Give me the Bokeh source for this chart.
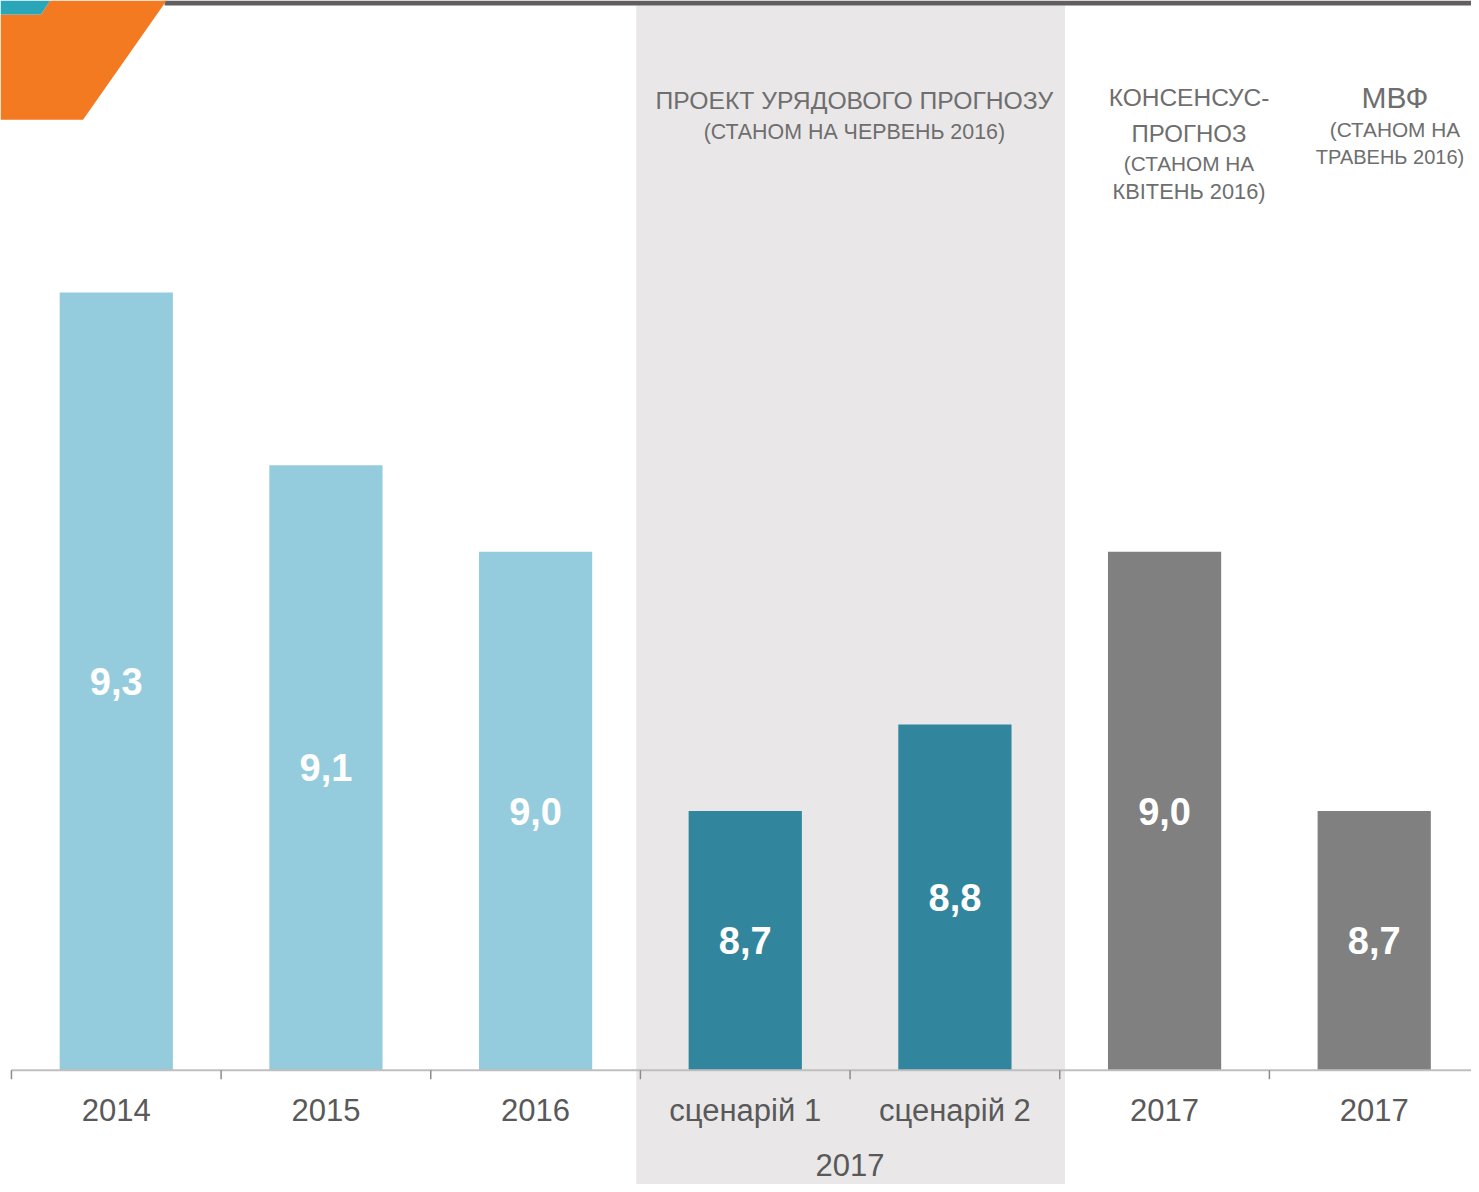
from bokeh.plotting import figure
from bokeh.models import Range1d, ColumnDataSource
from bokeh.core.properties import value
from bokeh.embed import file_html
from bokeh.resources import INLINE

# ---------------- data ----------------
categories = ["2014", "2015", "2016", "сценарій 1", "сценарій 2", "2017", "2017"]
values = [9.3, 9.1, 9.0, 8.7, 8.8, 9.0, 8.7]
value_labels = ["9,3", "9,1", "9,0", "8,7", "8,8", "9,0", "8,7"]
groups = ["fact", "fact", "fact", "gov", "gov", "consensus", "imf"]
group_axis_label = "2017"
header_gov = ["ПРОЕКТ УРЯДОВОГО ПРОГНОЗУ", "(СТАНОМ НА ЧЕРВЕНЬ 2016)"]
header_consensus = ["КОНСЕНСУС-", "ПРОГНОЗ", "(СТАНОМ НА", "КВІТЕНЬ 2016)"]
header_imf = ["МВФ", "(СТАНОМ НА", "ТРАВЕНЬ 2016)"]
baseline_value = 8.4

# ---------------- styling ----------------
group_colors = {"fact": "#94CCDD", "gov": "#31859C", "consensus": "#808080", "imf": "#808080"}
FONT = "Liberation Sans"
HEAD_COLOR = "#6E6E6E"
AXIS_TEXT = "#595959"

PX_PER_CAT = 210.8
PX_PER_UNIT = 870.0
X0_PX = 11.0
BASE_PX = 1077.0


def fx(px):
    return (px - X0_PX) / PX_PER_CAT


def fy(py):
    return baseline_value - (py - BASE_PX) / PX_PER_UNIT


W, H = 1471, 1184
p = figure(width=W, height=H, output_backend="svg", toolbar_location=None,
           x_range=Range1d(fx(0), fx(1479)), y_range=Range1d(fy(1192), fy(0)),
           x_axis_type=None, y_axis_type=None, min_border=0,
           background_fill_color="white", border_fill_color="white")
p.outline_line_color = None
p.xgrid.visible = False
p.ygrid.visible = False

# shaded band behind the government-forecast scenarios
gov_idx = [i for i, g in enumerate(groups) if g == "gov"]
p.quad(left=[gov_idx[0] - 0.02], right=[gov_idx[-1] + 1.025],
       bottom=[fy(1192)], top=[fy(5)], fill_color="#EAE7E8", line_color=None)

# decorative header elements
p.quad(left=[fx(165)], right=[fx(1479)], bottom=[fy(5)], top=[fy(0)],
       fill_color="#625D5E", line_color=None)
p.patch(x=[fx(0), fx(40.7), fx(50), fx(167), fx(83), fx(0)],
        y=[fy(14), fy(14), fy(0), fy(0), fy(120), fy(120)],
        fill_color="#F47A22", line_color=None)
p.patch(x=[fx(0), fx(50), fx(40.7), fx(0)],
        y=[fy(0), fy(0), fy(14), fy(14)],
        fill_color="#2BA6B8", line_color=None)

# bars
xs = [i + 0.5 for i in range(len(values))]
src = ColumnDataSource(dict(
    x=xs, top=values, bottom=[baseline_value] * len(values),
    color=[group_colors[g] for g in groups],
    mid=[(v + baseline_value) / 2 for v in values],
    lab=value_labels, cat=categories))
p.vbar(x="x", top="top", bottom="bottom", width=0.54, source=src,
       fill_color="color", line_color=None)

p.text(x="x", y="mid", text="lab", source=src, text_align="center",
       text_baseline="middle", text_color="white", text_font=value(FONT),
       text_font_style="bold", text_font_size="38px")

# axis line and ticks
p.segment(x0=[fx(11)], x1=[fx(1479)], y0=[baseline_value], y1=[baseline_value],
          line_color="#BFBFBF", line_width=2)
ticks = list(range(len(values) + 1))
p.segment(x0=ticks, x1=ticks, y0=[baseline_value] * len(ticks),
          y1=[fy(1086)] * len(ticks), line_color="#8C8C8C", line_width=1.5)

# category labels
p.text(x="x", y=fy(1117), text="cat", source=src, text_align="center",
       text_baseline="middle", text_color=AXIS_TEXT, text_font=value(FONT),
       text_font_size="31px")
p.text(x=[(gov_idx[0] + gov_idx[-1] + 1) / 2], y=[fy(1172)], text=[group_axis_label],
       text_align="center", text_baseline="middle", text_color=AXIS_TEXT,
       text_font=value(FONT), text_font_size="31px")


def header(lines, cx_list, centers_px, sizes):
    for t, cx, c, s in zip(lines, cx_list, centers_px, sizes):
        p.text(x=[fx(cx)], y=[fy(c)], text=[t], text_align="center",
               text_baseline="middle", text_color=HEAD_COLOR,
               text_font=value(FONT), text_font_size=s)


header(header_gov, [858.5, 858.5], [101, 132], ["24.7px", "21.4px"])
header(header_consensus, [1195] * 4, [98, 134, 164, 192], ["24.5px", "24px", "20.8px", "21.8px"])
header(header_imf, [1402, 1402, 1397], [98, 130, 158], ["30px", "20.8px", "20px"])

open("out.html", "w").write(file_html(p, INLINE))
